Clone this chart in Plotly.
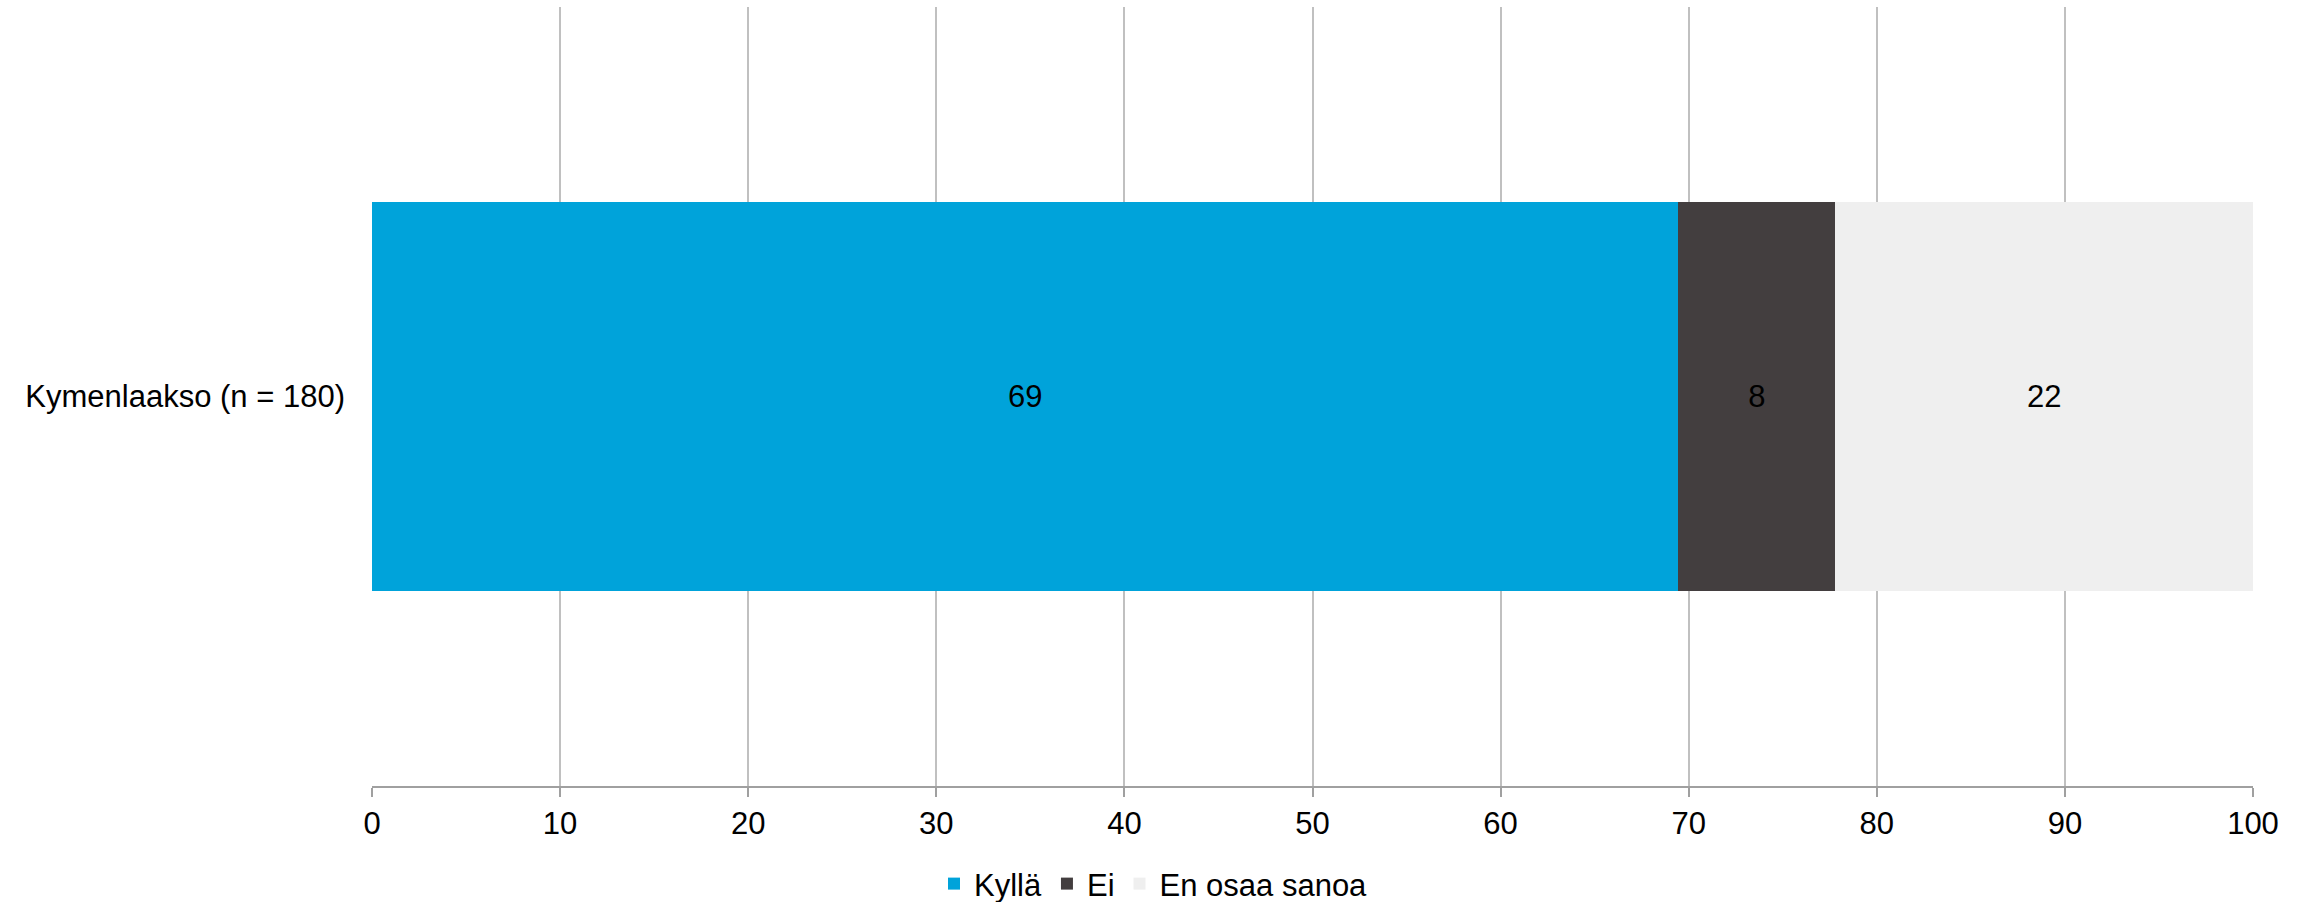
import plotly.graph_objects as go

categories = ["Kymenlaakso (n = 180)"]
series_names = ["Kyllä", "Ei", "En osaa sanoa"]
kylla = [69.45]
ei = [8.35]
eos = [22.2]
colors = ["#00A3DA", "#433E3F", "#EFEFEF"]
x_ticks = [0, 10, 20, 30, 40, 50, 60, 70, 80, 90, 100]

FONT = "Liberation Sans, Arial, sans-serif"

fig = go.Figure()
for name, vals, col in zip(series_names, [kylla, ei, eos], colors):
    fig.add_trace(go.Bar(
        y=categories, x=vals, name=name, orientation="h",
        marker=dict(color=col, line=dict(width=0)),
        text=[f"{int(v)}" for v in vals], textposition="inside",
        insidetextanchor="middle",
        textfont=dict(family=FONT, size=31, color="#000000"),
        hoverinfo="x+name",
    ))

fig.update_layout(
    barmode="stack",
    bargap=0.5,
    width=2307, height=902,
    margin=dict(l=372, r=54, t=7, b=116),
    paper_bgcolor="white", plot_bgcolor="white",
    font=dict(family=FONT, size=31, color="#000000"),
    legend=dict(
        orientation="h", xref="container", yref="container",
        x=0.5, xanchor="center", y=0.02, yanchor="middle",
        font=dict(family=FONT, size=31, color="#000000"),
        itemwidth=30, traceorder="normal",
    ),
    showlegend=True,
)
fig.update_xaxes(
    range=[0, 100], tickvals=x_ticks, ticktext=[str(t) for t in x_ticks],
    showgrid=True, gridcolor="#C0C0C0", gridwidth=2,
    showline=True, linecolor="#A0A0A0", linewidth=2,
    ticks="outside", ticklen=9, tickwidth=2, tickcolor="#A0A0A0",
    zeroline=False, tickfont=dict(family=FONT, size=31, color="#000000"),
)
fig.update_yaxes(
    showgrid=False, zeroline=False, showline=False, ticks="",
    ticklabelstandoff=26,
    tickfont=dict(family=FONT, size=31, color="#000000"),
)

fig.write_html(
    "out.html",
    config={"displayModeBar": False},
    post_script="document.body.style.margin='0';document.body.style.overflow='hidden';",
)
